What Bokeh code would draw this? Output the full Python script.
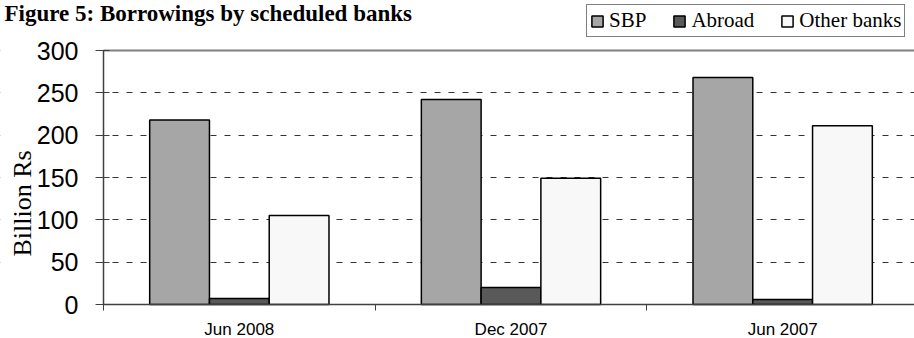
import math
from bokeh.plotting import figure
from bokeh.models import (ColumnDataSource, Range1d, FixedTicker, Legend, LegendItem, Span,
                          Label, LinearAxis, BoxAnnotation, Grid)
from bokeh.transform import dodge
from bokeh.embed import file_html
from bokeh.resources import INLINE

categories = ["Jun 2008", "Dec 2007", "Jun 2007"]
sbp = [218, 242, 268]
abroad = [7, 20, 6]
other_banks = [105, 149, 211]
series_names = ["SBP", "Abroad", "Other banks"]
y_ticks = [0, 50, 100, 150, 200, 250, 300]
title_text = "Figure 5: Borrowings by scheduled banks"
y_label = "Billion Rs"

xs = [i + 0.5 for i in range(len(categories))]
src = ColumnDataSource(dict(x=xs, sbp=sbp, abroad=abroad, other=other_banks))

W, H = 914, 338
# frame covers whole canvas; ranges chosen so the plot area sits at x 103..918, y 50..304
px_x = 815 / 3.0
px_y = 254 / 300.0
x_range = Range1d(-103 / px_x, (W - 103) / px_x)
y_range = Range1d(-(H - 304) / px_y, 300 + 50 / px_y)

p = figure(width=W, height=H, output_backend="svg", toolbar_location=None,
           x_range=x_range, y_range=y_range, x_axis_type=None, y_axis_type=None,
           min_border=0)
p.outline_line_color = None
p.background_fill_color = "white"
p.border_fill_color = "white"

# dashed horizontal grid, top solid line, and a white mask left of the y axis
p.add_layout(Grid(dimension=1, ticker=FixedTicker(ticks=y_ticks[1:-1]),
                  grid_line_color="#333333", grid_line_dash="6 8", grid_line_width=1,
                  level="underlay"))
p.add_layout(Span(location=y_ticks[-1], dimension="width", line_color="#808080",
                  line_width=2, level="underlay"))
p.add_layout(BoxAnnotation(right=0, fill_color="white", fill_alpha=1, line_color=None,
                           level="underlay"))

# axes at fixed locations inside the canvas
xaxis = LinearAxis(fixed_location=0, bounds=(0, len(categories)))
xaxis.ticker = FixedTicker(ticks=xs, minor_ticks=list(range(len(categories) + 1)))
xaxis.major_label_overrides = {x: c for x, c in zip(xs, categories)}
xaxis.major_tick_in = 0
xaxis.major_tick_out = 0
xaxis.minor_tick_in = 0
xaxis.minor_tick_out = 6
xaxis.minor_tick_line_color = "#404040"
xaxis.axis_line_color = "#404040"
xaxis.axis_line_width = 1.5
xaxis.major_label_standoff = 9
xaxis.major_label_text_font = "Liberation Sans"
xaxis.major_label_text_font_size = "17px"
xaxis.major_label_text_color = "black"
p.add_layout(xaxis, "below")

yaxis = LinearAxis(fixed_location=0, bounds=(0, 300))
yaxis.ticker = FixedTicker(ticks=y_ticks)
yaxis.minor_tick_line_color = None
yaxis.major_tick_in = 6
yaxis.major_tick_out = 8
yaxis.major_tick_line_color = "#404040"
yaxis.axis_line_color = "#404040"
yaxis.axis_line_width = 1.5
yaxis.major_label_text_font = "Liberation Sans"
yaxis.major_label_text_font_size = "25px"
yaxis.major_label_text_color = "black"
yaxis.major_label_standoff = 17
p.add_layout(yaxis, "left")

bw = 0.22
colors = ["#a6a6a6", "#595959", "#f8f8f8"]
r1 = p.vbar(x=dodge("x", -bw, range=p.x_range), top="sbp", width=bw, source=src,
            fill_color=colors[0], line_color="black", line_width=1.5)
r2 = p.vbar(x=dodge("x", 0, range=p.x_range), top="abroad", width=bw, source=src,
            fill_color=colors[1], line_color="black", line_width=1.5)
r3 = p.vbar(x=dodge("x", bw, range=p.x_range), top="other", width=bw, source=src,
            fill_color=colors[2], line_color="black", line_width=1.5)

p.add_layout(Label(x=4, y=H - 13, x_units="screen", y_units="screen", text=title_text,
                   text_font="Liberation Serif", text_font_style="bold", text_font_size="23px",
                   text_color="black", text_baseline="alphabetic"))
p.add_layout(Label(x=22, y=H - 203, x_units="screen", y_units="screen", text=y_label,
                   angle=math.pi / 2, text_align="center", text_baseline="middle",
                   text_font="Liberation Serif", text_font_size="26px", text_color="black"))

legend = Legend(items=[LegendItem(label=n, renderers=[r]) for n, r in zip(series_names, [r1, r2, r3])],
                orientation="horizontal", location=(586, H - 37))
legend.label_text_font = "Liberation Serif"
legend.label_text_font_size = "21px"
legend.label_text_color = "black"
legend.glyph_width = 14
legend.glyph_height = 14
legend.label_standoff = 5
legend.spacing = 26
legend.padding = 3
legend.margin = 0
legend.border_line_color = "black"
legend.border_line_width = 1
legend.label_height = 20
legend.background_fill_color = "white"
p.add_layout(legend, "center")

open("out.html", "w").write(file_html(p, INLINE))
